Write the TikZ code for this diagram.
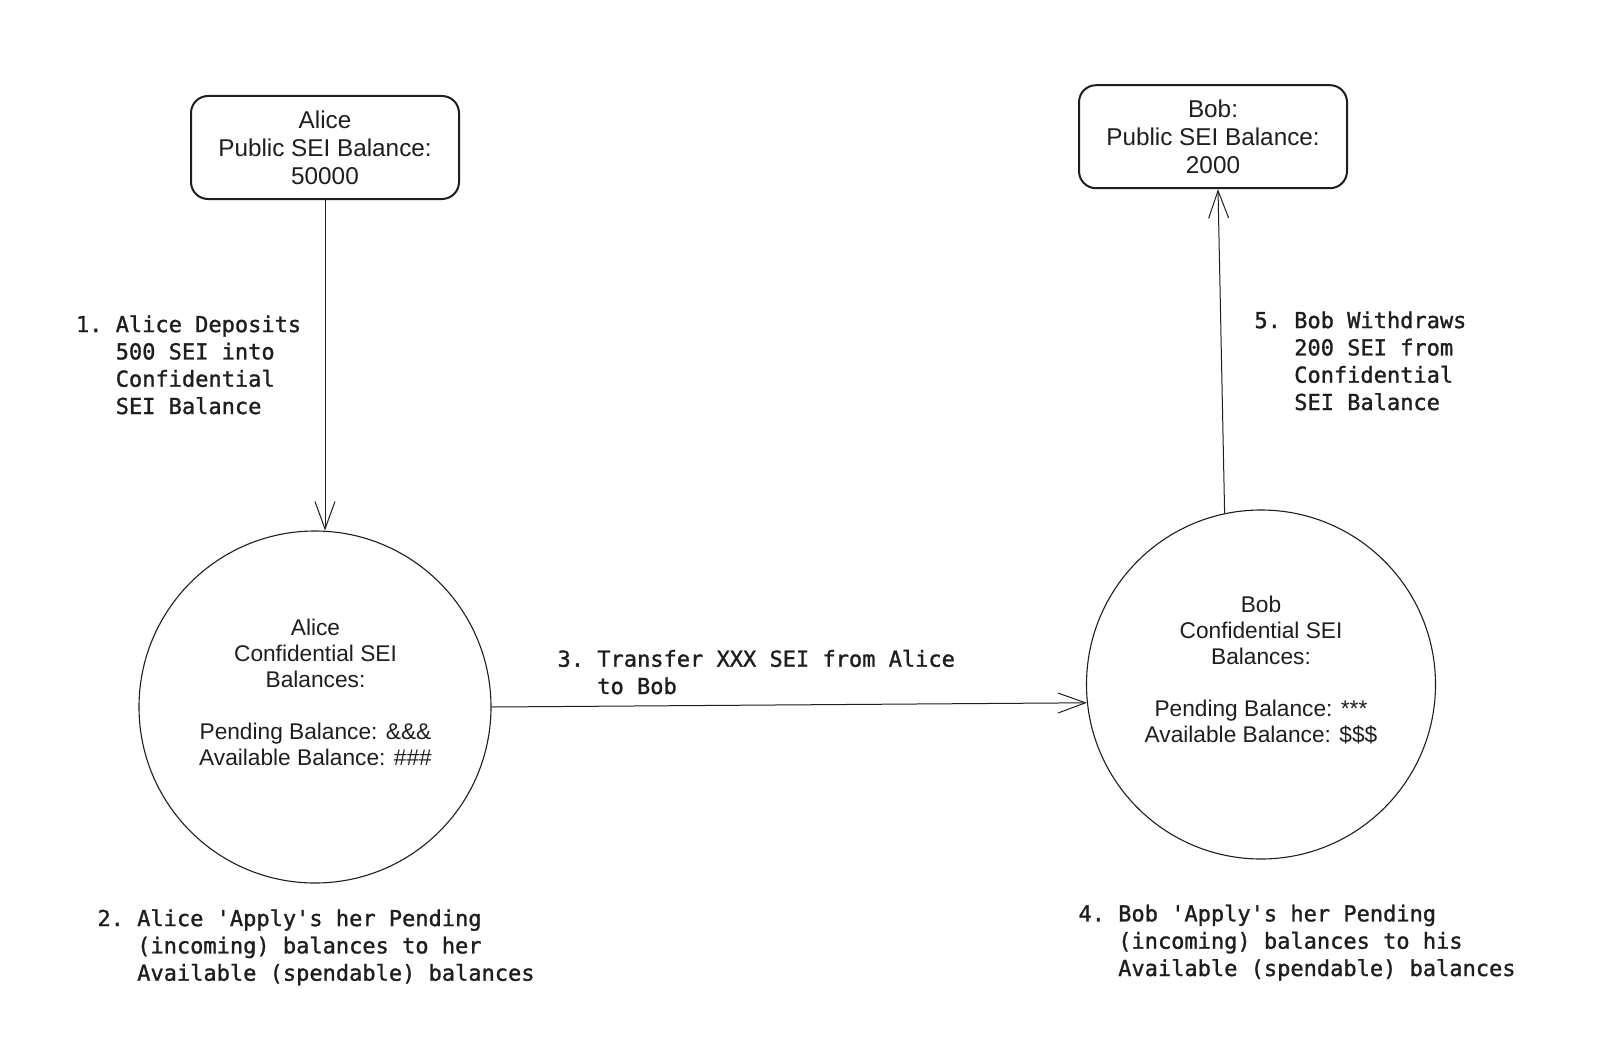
\documentclass[tikz,border=0pt]{standalone}
\usepackage{fontspec}
\setmonofont{DejaVu Sans Mono}[FakeBold=1.2]
\newfontfamily\sansf{Liberation Sans}
\usetikzlibrary{arrows.meta}
\definecolor{ink}{HTML}{1E1E1E}
\begin{document}
\begin{tikzpicture}[x=1pt,y=-1pt,
  pubbox/.style={draw=ink, line width=2pt, rounded corners=17pt, minimum width=268pt, minimum height=103pt, inner sep=0pt, align=center, text=ink, font=\sansf\fontsize{24.3}{28}\selectfont},
  confc/.style={draw=ink, line width=1.1pt, circle, inner sep=0pt},
  conftext/.style={anchor=base, inner sep=0pt, align=center, text=ink, font=\sansf\fontsize{22.7}{26}\selectfont},
  steplabel/.style={anchor=base west, inner sep=0pt, align=left, text=ink, font=\ttfamily\frenchspacing\fontsize{22}{27.3}\selectfont},
  arr/.style={draw=ink, line width=1pt, -{Straight Barb[length=27.5pt,width=20pt,line width=1pt]}}
]
\fill[white] (0,0) rectangle (1606,1054);
\useasboundingbox (0,0) rectangle (1606,1054);

% public balance boxes
\node[pubbox] (abox) at (325,147.5) {Alice\\Public SEI Balance:\\50000};
\node[pubbox] (bbox) at (1213,136.7) {Bob:\\Public SEI Balance:\\2000};

% confidential balance circles (text anchored at the baseline of its last line)
\node[confc, minimum size=352pt] (acirc) at (315,707) {};
\node[confc, minimum size=349pt] (bcirc) at (1261,684.5) {};
\node[conftext] (atext) at (315.5,765) {Alice\\Confidential SEI\\Balances:\\[26pt]Pending Balance: \&\&\&\\Available Balance: \#\#\#};
\node[conftext] (btext) at (1261,742) {Bob\\Confidential SEI\\Balances:\\[26pt]Pending Balance: ***\\Available Balance: \$\$\$};

% connectors
\draw[arr] (abox.south) -- (abox.south |- acirc.north);
\draw[arr] (acirc.east) -- (bcirc.186);
\draw[arr] (bcirc.102) -- ([xshift=5pt]bbox.south);

% step labels (anchored at the baseline of their last line)
\node[steplabel] (l1) at (75.8,414) {1. Alice Deposits\\\phantom{1. }500 SEI into\\\phantom{1. }Confidential\\\phantom{1. }SEI Balance};
\node[steplabel] (l2) at (97.3,980.7) {2. Alice 'Apply's her Pending\\\phantom{2. }(incoming) balances to her\\\phantom{2. }Available (spendable) balances};
\node[steplabel] (l3) at (557.4,694) {3. Transfer XXX SEI from Alice\\\phantom{3. }to Bob};
\node[steplabel] (l4) at (1078.3,976) {4. Bob 'Apply's her Pending\\\phantom{4. }(incoming) balances to his\\\phantom{4. }Available (spendable) balances};
\node[steplabel] (l5) at (1254.3,410) {5. Bob Withdraws\\\phantom{5. }200 SEI from\\\phantom{5. }Confidential\\\phantom{5. }SEI Balance};
\end{tikzpicture}
\end{document}
